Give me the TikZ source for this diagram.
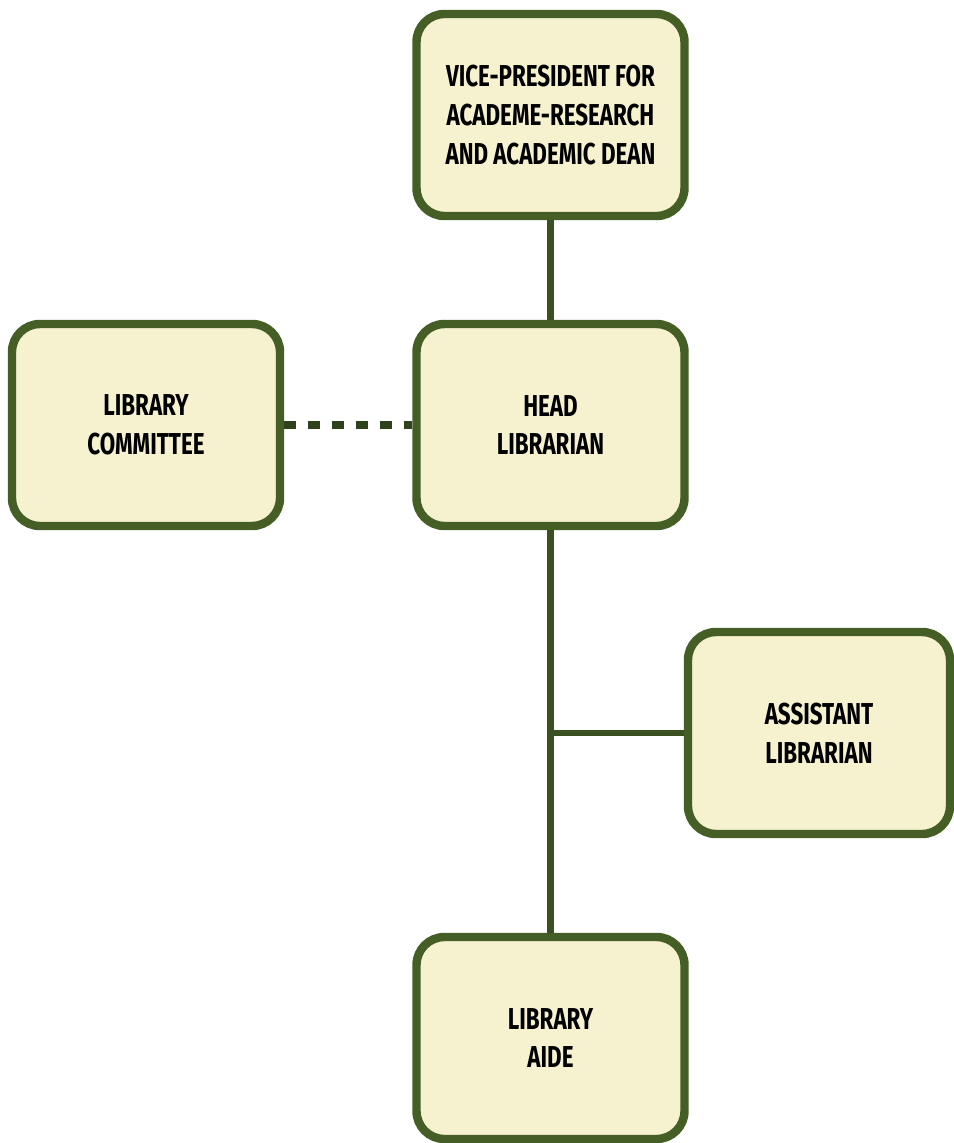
\documentclass[tikz,border=0pt]{standalone}
\usepackage{fontspec}
\setmainfont{Fira Sans}[FakeStretch=0.74]
\usepackage{tikz}
\usetikzlibrary{positioning,calc}
\definecolor{BoxFill}{RGB}{246,241,206}
\definecolor{BoxEdge}{RGB}{68,94,38}
\tikzset{unit/.style={rectangle,rounded corners=0.28cm,draw=BoxEdge,fill=BoxFill,line width=2.4pt,minimum width=2.68cm,minimum height=2.02cm,align=center,font=\fontsize{8.6}{11}\selectfont\bfseries,text=black},
link/.style={draw=BoxEdge!85!black,line width=1.8pt},
advisory/.style={draw=BoxEdge!70!black,line width=2.3pt,dash pattern=on 3.4pt off 3.4pt}}

\begin{document}
\begin{tikzpicture}
\useasboundingbox (0,0) rectangle (9.54,-11.43);
\node[unit] (vp) at (5.505,-1.15) {VICE-PRESIDENT FOR\\ACADEME-RESEARCH\\AND ACADEMIC DEAN};
\node[unit] (head) at (5.505,-4.25) {HEAD\\LIBRARIAN};
\node[unit] (comm) at (1.46,-4.25) {LIBRARY\\COMMITTEE};
\node[unit,minimum width=2.62cm] (asst) at (8.19,-7.33) {ASSISTANT\\LIBRARIAN};
\node[unit] (aide) at (5.505,-10.38) {LIBRARY\\AIDE};
\coordinate (jn) at (head.south |- asst.west);
\draw[link] (vp) -- (head);
\draw[link] (head) -- (aide);
\draw[link] (jn) -- (asst);
\draw[advisory] (comm) -- (head);
\end{tikzpicture}
\end{document}
